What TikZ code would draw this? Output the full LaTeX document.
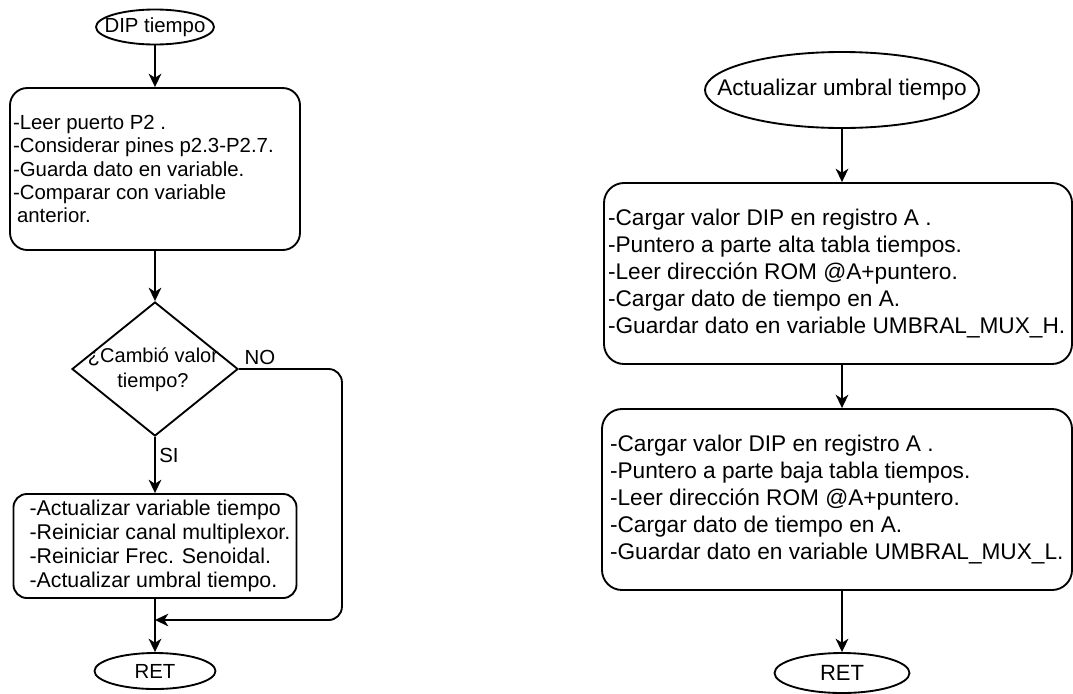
\documentclass[tikz,border=0pt]{standalone}
\usepackage{fontspec}
\setmainfont{Liberation Sans}
\usetikzlibrary{shapes.geometric,arrows.meta}

\begin{document}
\begin{tikzpicture}[x=0.75pt,y=-0.75pt,
  line width=1.4pt,
  base/.style={draw, line width=1.4pt},
  term/.style={base, ellipse, inner sep=0pt},
  proc/.style={base, rectangle},
  lbl/.style={align=left, inner sep=0pt, anchor=west},
  fl/.style={font=\fontsize{15.3}{17.5}\selectfont},
  fr/.style={font=\fontsize{17}{20.4}\selectfont},
  arr/.style={-{Stealth[length=10pt,width=9.5pt,inset=3pt]}}]

\useasboundingbox (0,0) rectangle (1073,693);

% ---- left routine: DIP tiempo ----
\node[term, minimum width=88.5pt, minimum height=26.25pt,
      label={[fl, inner sep=0pt]center:DIP tiempo}] (dip) at (155,27) {};

\node[proc, rounded corners=13pt, minimum width=217.5pt, minimum height=121.5pt] (b1) at (155,169) {};
\node[lbl, fl] (b1t) at ([xshift=2.25pt]b1.west) {-Leer puerto P2 .\\-Considerar pines p2.3-P2.7.\\-Guarda dato en variable.\\-Comparar con variable\\\hspace*{3pt}anterior.};

\node[base, diamond, inner sep=0pt, minimum width=124.5pt, minimum height=100.5pt] (d) at (155,369) {};
\node[align=center, inner sep=0pt, font=\fontsize{15}{18.75}\selectfont] (dt) at (153,369.5) {¿Cambió valor\\tiempo?};

\node[proc, rounded corners=10pt, minimum width=212.25pt, minimum height=78pt] (b2) at (155,546) {};
\node[lbl, font=\fontsize{16}{18.2}\selectfont] (b2t) at ([xshift=12pt]b2.west) {-Actualizar variable tiempo\\-Reiniciar canal multiplexor.\\-Reiniciar Frec. Senoidal.\\-Actualizar umbral tiempo.};

\node[term, minimum width=90.75pt, minimum height=27pt,
      label={[fl, inner sep=0pt]center:RET}] (ret1) at (155,671) {};

\node[fl] (no) at (260,357) {NO};
\node[fl] (si) at (169,455) {SI};

\coordinate (m) at (155,620);

\draw[arr] (dip) -- (b1);
\draw[arr] (b1) -- (d);
\draw[arr] (d) -- (b2);
\draw[arr] (b2) -- (ret1);
\draw[arr, rounded corners=10pt] (d.east) -- ++(103,0) |- (m);

% ---- right routine: Actualizar umbral tiempo ----
\node[term, minimum width=205.5pt, minimum height=57pt,
      label={[fr, inner sep=0pt]center:Actualizar umbral tiempo}] (au) at (842,90) {};

\node[proc, rounded corners=15pt, minimum width=351pt, minimum height=135.75pt] (b3) at (838,273.5) {};
\node[lbl, fr] (b3t) at ([xshift=3pt]b3.west) {-Cargar valor DIP en registro A .\\-Puntero a parte alta tabla tiempos.\\-Leer dirección ROM @A+puntero.\\-Cargar dato de tiempo en A.\\-Guardar dato en variable UMBRAL\_MUX\_H.};

\node[proc, rounded corners=15pt, minimum width=352.5pt, minimum height=135.75pt] (b4) at (837,499.5) {};
\node[lbl, fr] (b4t) at ([xshift=6pt]b4.west) {-Cargar valor DIP en registro A .\\-Puntero a parte baja tabla tiempos.\\-Leer dirección ROM @A+puntero.\\-Cargar dato de tiempo en A.\\-Guardar dato en variable UMBRAL\_MUX\_L.};

\node[term, minimum width=101.25pt, minimum height=30pt,
      label={[font=\fontsize{16.5}{19.8}\selectfont, inner sep=0pt]center:RET}] (ret2) at (842,673) {};

\draw[arr] (au) -- (au |- b3.north);
\draw[arr] (au |- b3.south) -- (au |- b4.north);
\draw[arr] (au |- b4.south) -- (ret2);

\end{tikzpicture}
\end{document}
